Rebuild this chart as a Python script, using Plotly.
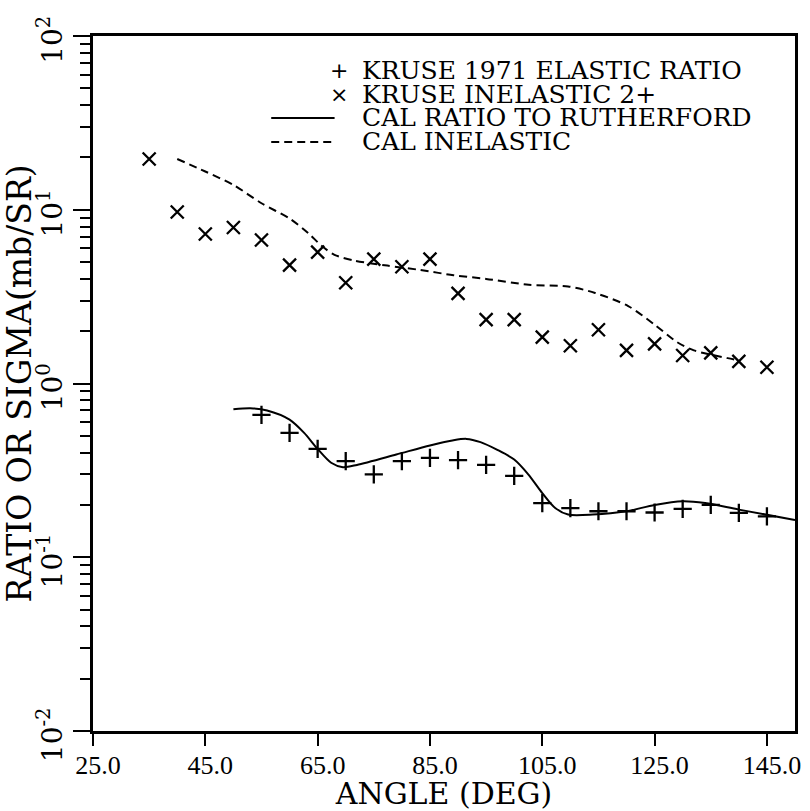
import plotly.graph_objects as go

# ---------------- data ----------------
elastic_angle = [55, 60, 65, 70, 75, 80, 85, 90, 95, 100, 105, 110, 115, 120, 125, 130, 135, 140, 145]
elastic_ratio = [0.66, 0.52, 0.42, 0.357, 0.30, 0.357, 0.373, 0.362, 0.34, 0.294, 0.205, 0.192,
                 0.184, 0.184, 0.181, 0.19, 0.20, 0.18, 0.172]

inel_angle = [35, 40, 45, 50, 55, 60, 65, 70, 75, 80, 85, 90, 95, 100, 105, 110, 115, 120, 125,
              130, 135, 140, 145]
inel_sigma = [19.6, 9.7, 7.25, 7.9, 6.7, 4.8, 5.7, 3.8, 5.2, 4.7, 5.2, 3.3, 2.33, 2.33, 1.85,
              1.65, 2.04, 1.55, 1.69, 1.45, 1.5, 1.34, 1.24]

cal_ratio_angle = [50, 53, 56, 60, 62.6, 65, 67.4, 69.5, 72, 79, 85, 89, 91.5, 94, 97, 100,
                   102.5, 105, 107.3, 109.6, 114, 120, 125, 130, 134, 140, 150]
cal_ratio = [0.71, 0.72, 0.70, 0.62, 0.52, 0.42, 0.35, 0.33, 0.34, 0.39, 0.44, 0.47, 0.48, 0.46,
             0.415, 0.365, 0.30, 0.234, 0.192, 0.176, 0.176, 0.184, 0.20, 0.21, 0.205, 0.188, 0.164]

cal_inel_angle = [40, 45, 50, 55, 60, 63.3, 65.7, 68, 71.5, 77.4, 83.3, 89.2, 95, 102.6, 109.6,
                  114.4, 120.3, 125, 129, 132, 138, 140]
cal_inel = [19.6, 16.6, 13.9, 10.9, 8.9, 7.35, 6.2, 5.5, 5.1, 4.77, 4.5, 4.2, 4.0, 3.7, 3.62,
            3.32, 2.79, 2.18, 1.73, 1.55, 1.40, 1.36]

x_tickvals = [25, 45, 65, 85, 105, 125, 145]
x_ticktext = ["25.0", "45.0", "65.0", "85.0", "105.0", "125.0", "145.0"]
y_tickvals = [0.01, 0.1, 1, 10, 100]
y_ticktext = ["10<sup>-2</sup>", "10<sup>-1</sup>", "10<sup>0</sup>", "10<sup>1</sup>", "10<sup>2</sup>"]

legend_labels = ["KRUSE 1971 ELASTIC RATIO", "KRUSE INELASTIC 2+",
                 "CAL RATIO TO RUTHERFORD", "CAL INELASTIC"]

SERIF = "DejaVu Serif"

fig = go.Figure()
fig.add_trace(go.Scatter(x=cal_inel_angle, y=cal_inel, mode="lines",
                         line=dict(color="black", width=2, dash="8px,5px", shape="spline", smoothing=0.8),
                         name=legend_labels[3], showlegend=False))
fig.add_trace(go.Scatter(x=cal_ratio_angle, y=cal_ratio, mode="lines",
                         line=dict(color="black", width=2, shape="spline", smoothing=0.8),
                         name=legend_labels[2], showlegend=False))
fig.add_trace(go.Scatter(x=inel_angle, y=inel_sigma, mode="markers",
                         marker=dict(symbol="x-thin", size=13, line=dict(color="black", width=2.3)),
                         name=legend_labels[1], showlegend=False))
fig.add_trace(go.Scatter(x=elastic_angle, y=elastic_ratio, mode="markers",
                         marker=dict(symbol="cross-thin", size=13, line=dict(color="black", width=2.3)),
                         name=legend_labels[0], showlegend=False))

# ---------------- manual legend (layout decoration) ----------------
L, R, T, B = 92, 801, 36, 731
def px(x):
    return (x - L) / (R - L)
def py(y):
    return (B - y) / (B - T)

rows = [70, 94, 118, 142]
text_x = 362
for i, lab in enumerate(legend_labels):
    fig.add_annotation(x=px(text_x), y=py(rows[i]), xref="paper", yref="paper",
                       text=lab, showarrow=False, xanchor="left", yanchor="middle",
                       font=dict(family=SERIF, size=25, color="black"))
fig.add_annotation(x=px(340), y=py(rows[0]), xref="paper", yref="paper", text="+",
                   showarrow=False, xanchor="center", yanchor="middle",
                   font=dict(family="DejaVu Sans", size=22, color="black"))
fig.add_annotation(x=px(340), y=py(rows[1]), xref="paper", yref="paper", text="×",
                   showarrow=False, xanchor="center", yanchor="middle",
                   font=dict(family="DejaVu Sans", size=22, color="black"))
fig.add_shape(type="line", xref="paper", yref="paper", x0=px(272), x1=px(336),
              y0=py(rows[2]), y1=py(rows[2]), line=dict(color="black", width=2))
fig.add_shape(type="line", xref="paper", yref="paper", x0=px(272), x1=px(336),
              y0=py(rows[3]), y1=py(rows[3]), line=dict(color="black", width=2, dash="8px,5px"))

fig.update_layout(
    width=810, height=811,
    margin=dict(l=L, r=810 - R, t=T, b=811 - B),
    paper_bgcolor="white", plot_bgcolor="white",
    showlegend=False,
    xaxis=dict(range=[25, 150], tickvals=x_tickvals, ticktext=x_ticktext,
               ticks="outside", ticklen=12, tickwidth=2, tickcolor="black",
               showline=True, linewidth=3, linecolor="black", mirror=True,
               showgrid=False, zeroline=False, ticklabelshift=5, ticklabelstandoff=-3,
               tickfont=dict(family="Liberation Serif", size=26, color="black"),
               title=dict(text="ANGLE (DEG)", standoff=0,
                          font=dict(family=SERIF, size=30, color="black"))),
    yaxis=dict(type="log", range=[-2, 2], tickvals=y_tickvals, ticktext=y_ticktext,
               ticks="outside", ticklen=17, tickwidth=2, tickcolor="black",
               minor=dict(ticks="outside", ticklen=10, tickwidth=2, tickcolor="black",
                          dtick="D1", showgrid=False),
               showline=True, linewidth=3, linecolor="black", mirror=True,
               showgrid=False, zeroline=False, tickangle=-90, ticklabelshift=8,
               tickfont=dict(family=SERIF, size=28, color="black"),
               title=dict(text="RATIO OR SIGMA(mb/SR)", standoff=0,
                          font=dict(family=SERIF, size=33, color="black"))),
)

fig.write_html("out.html")
